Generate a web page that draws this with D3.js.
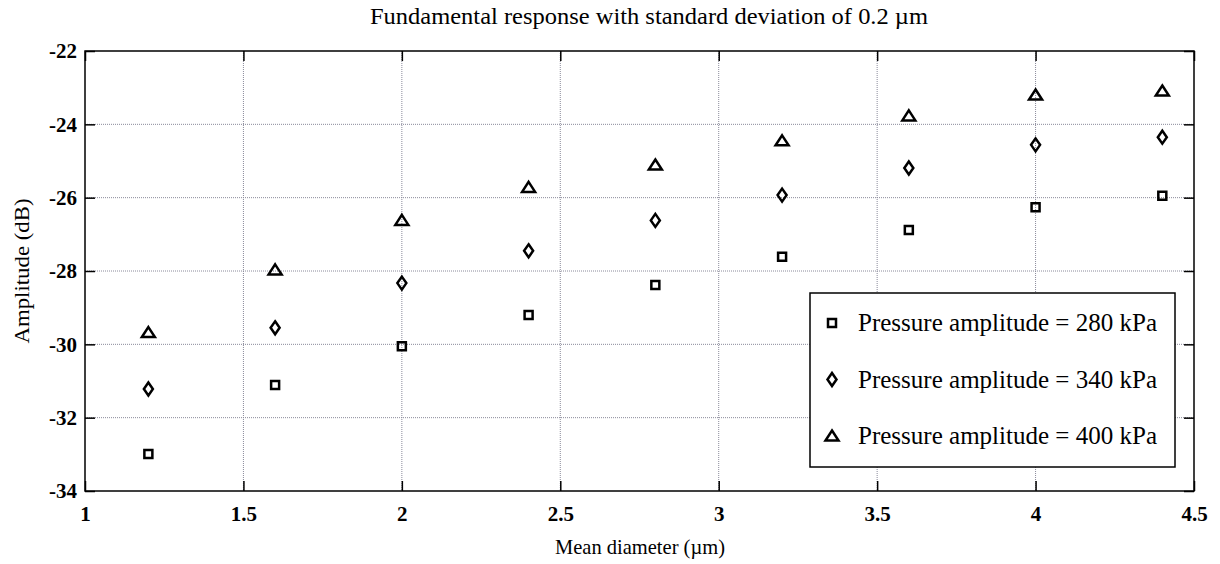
<!DOCTYPE html>
<html>
<head>
<meta charset="utf-8">
<script src="https://cdn.jsdelivr.net/npm/d3@7"></script>
<style>
  body { margin: 0; background: #fff; }
  svg text { font-family: "Liberation Serif", "Times New Roman", serif; }
</style>
</head>
<body>
<div id="chart"></div>
<script>
// Mean diameter (um)
var diameters = [1.2, 1.6, 2.0, 2.4, 2.8, 3.2, 3.6, 4.0, 4.4];

// Amplitude (dB) per pressure amplitude
var amp280 = [-32.99, -31.11, -30.05, -29.2, -28.38, -27.61, -26.88, -26.26, -25.95];
var amp340 = [-31.22, -29.55, -28.33, -27.45, -26.62, -25.93, -25.19, -24.56, -24.35];
var amp400 = [-29.68, -27.97, -26.62, -25.72, -25.11, -24.45, -23.77, -23.2, -23.09];

var seriesNames = ['Pressure amplitude = 280 kPa', 'Pressure amplitude = 340 kPa', 'Pressure amplitude = 400 kPa'];
var xTicks = [1, 1.5, 2, 2.5, 3, 3.5, 4, 4.5];
var yTicks = [-34, -32, -30, -28, -26, -24, -22];

var W = 1220, H = 564;
var margin = { top: 51, right: 26, bottom: 73, left: 85 };
var width = W - margin.left - margin.right;
var height = H - margin.top - margin.bottom;

var svg = d3.select('#chart').append('svg')
    .attr('width', W)
    .attr('height', H);

var g = svg.append('g')
    .attr('transform', 'translate(' + margin.left + ',' + margin.top + ')');

var x = d3.scaleLinear().domain([1, 4.5]).range([0, width]);
var y = d3.scaleLinear().domain([-34, -22]).range([height, 0]);

// marker shapes
function markerPath(kind) {
    if (kind === 0) return 'M-4,-4H4V4H-4Z';
    if (kind === 1) return 'M0,-6.5L4.5,0L0,6.5L-4.5,0Z';
    return 'M0,-5.5L6.5,4.5H-6.5Z';
}

// grid
g.append('g').selectAll('line')
    .data(xTicks.slice(1, -1))
    .enter().append('line')
    .attr('x1', function (d) { return x(d); })
    .attr('x2', function (d) { return x(d); })
    .attr('y1', 0).attr('y2', height)
    .style('stroke', '#8a8a9a')
    .style('stroke-width', 1)
    .style('stroke-dasharray', '1,1');

g.append('g').selectAll('line')
    .data(yTicks.slice(1, -1))
    .enter().append('line')
    .attr('y1', function (d) { return y(d); })
    .attr('y2', function (d) { return y(d); })
    .attr('x1', 0).attr('x2', width)
    .style('stroke', '#8a8a9a')
    .style('stroke-width', 1)
    .style('stroke-dasharray', '1,1');

// axes with inward ticks
var fmt = function (d) { return String(d); };
var xAxis = g.append('g')
    .attr('transform', 'translate(0,' + height + ')')
    .call(d3.axisBottom(x).tickValues(xTicks).tickSize(-10).tickPadding(15).tickFormat(fmt));
var yAxis = g.append('g')
    .call(d3.axisLeft(y).tickValues(yTicks).tickSize(-10).tickPadding(8).tickFormat(fmt));
var xTop = g.append('g')
    .call(d3.axisTop(x).tickValues(xTicks).tickSize(-10).tickFormat(''));
var yRight = g.append('g')
    .attr('transform', 'translate(' + width + ',0)')
    .call(d3.axisRight(y).tickValues(yTicks).tickSize(-10).tickFormat(''));

[xAxis, yAxis, xTop, yRight].forEach(function (a) {
    a.attr('font-family', null);
    a.select('.domain').remove();
    a.selectAll('.tick line').style('stroke', '#000').style('stroke-width', 1.5);
    a.selectAll('text')
        .style('font-weight', 'bold')
        .style('font-size', '21px')
        .style('fill', '#000');
});

// frame
g.append('rect')
    .attr('width', width).attr('height', height)
    .style('fill', 'none')
    .style('stroke', '#000')
    .style('stroke-width', 1.5);

// points
var allSeries = [amp280, amp340, amp400];
allSeries.forEach(function (vals, i) {
    g.selectAll('.pt' + i)
        .data(vals)
        .enter().append('path')
        .attr('class', 'pt' + i)
        .attr('d', markerPath(i))
        .attr('transform', function (d, j) { return 'translate(' + x(diameters[j]) + ',' + y(d) + ')'; })
        .style('fill', 'none')
        .style('stroke', '#000')
        .style('stroke-width', 2.5);
});

// legend
var legend = svg.append('g').attr('transform', 'translate(810,293)');
legend.append('rect')
    .attr('width', 365).attr('height', 174)
    .style('fill', '#fff')
    .style('stroke', '#000')
    .style('stroke-width', 1.5);

seriesNames.forEach(function (name, i) {
    var row = legend.append('g').attr('transform', 'translate(0,' + (30 + i * 56.5) + ')');
    row.append('path')
        .attr('d', markerPath(i))
        .attr('transform', 'translate(22,0)')
        .style('fill', 'none')
        .style('stroke', '#000')
        .style('stroke-width', 2.5);
    row.append('text')
        .attr('x', 48)
        .attr('y', 8)
        .attr('textLength', 299)
        .attr('lengthAdjust', 'spacingAndGlyphs')
        .style('font-size', '25px')
        .text(name);
});

// titles
svg.append('text')
    .attr('x', 649).attr('y', 24)
    .attr('text-anchor', 'middle')
    .attr('textLength', 558)
    .attr('lengthAdjust', 'spacingAndGlyphs')
    .style('font-size', '23px')
    .text('Fundamental response with standard deviation of 0.2 \u00b5m');

svg.append('text')
    .attr('x', 640).attr('y', 554)
    .attr('text-anchor', 'middle')
    .attr('textLength', 170)
    .attr('lengthAdjust', 'spacingAndGlyphs')
    .style('font-size', '22px')
    .text('Mean diameter (\u00b5m)');

svg.append('text')
    .attr('transform', 'translate(29,271) rotate(-90)')
    .attr('text-anchor', 'middle')
    .attr('textLength', 145)
    .attr('lengthAdjust', 'spacingAndGlyphs')
    .style('font-size', '22px')
    .text('Amplitude (dB)');
</script>
</body>
</html>
